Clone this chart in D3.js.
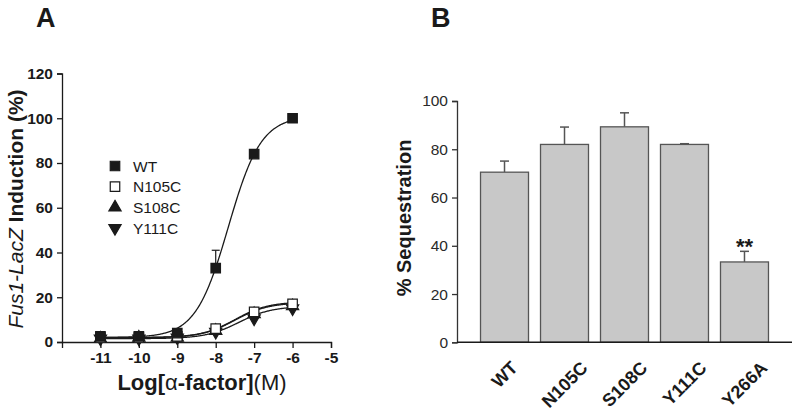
<!DOCTYPE html>
<html><head><meta charset="utf-8">
<script src="https://cdn.jsdelivr.net/npm/d3@7"></script>
<style>
body{margin:0;background:#fff;}
svg{display:block;font-family:"Liberation Sans",Arial,sans-serif;}
</style></head>
<body><svg id="c" width="800" height="411"></svg>
<script>
// ---- Panel A data ----
const logDose = [-11, -10, -9, -8, -7, -6];
const seriesNames = ["WT", "N105C", "S108C", "Y111C"];
const wtValues    = [2.5, 2.5, 4.0, 33.0, 84.0, 100.0];
const n105cValues = [2.0, 2.0, 2.5, 6.0, 13.5, 17.0];
const s108cValues = [1.5, 2.0, 2.0, 5.0, 12.5, 16.0];
const y111cValues = [1.5, 1.5, 2.0, 4.5, 10.5, 15.0];
const wtErrors    = [0, 0, 0, 8.0, 2.0, 0];
const n105cErrors = [0, 0, 0, 0, 1.0, 0];
// fitted sigmoid parameters: [bottom, top, logEC50, hill]
const wtFit    = [2.0, 101.0, -7.67, 1.02];
const n105cFit = [2.0, 18.0, -7.5, 1.0];
const s108cFit = [1.9, 17.6, -7.5, 1.0];
const y111cFit = [1.5, 16.0, -7.4, 1.0];
const xTicksA = [-11, -10, -9, -8, -7, -6, -5];
const yTicksA = [0, 20, 40, 60, 80, 100, 120];

// ---- Panel B data ----
const barCategories = ["WT", "N105C", "S108C", "Y111C", "Y266A"];
const barValues = [70.5, 82.0, 89.3, 82.0, 33.3];
const barErrors = [4.6, 7.2, 5.8, 0.3, 4.4];
const barMarks  = ["", "", "", "", "**"];
const yTicksB = [0, 20, 40, 60, 80, 100];

const svg = d3.select("#c");
const ink = "#1a1a1a";

// ================= Panel A =================
const xA = d3.scaleLinear().domain([-12, -5]).range([62, 331]);
const yA = d3.scaleLinear().domain([0, 120]).range([342, 73.5]);
const gA = svg.append("g");

const axXA = gA.append("g").attr("transform", `translate(0,${yA(0)})`)
  .call(d3.axisBottom(xA).tickValues(xTicksA).tickSize(6).tickPadding(4).tickFormat(d3.format("d")));
const axYA = gA.append("g").attr("transform", `translate(${xA(-12)},0)`)
  .call(d3.axisLeft(yA).tickValues(yTicksA).tickSize(5).tickPadding(4));
[axXA, axYA].forEach(a => {
  a.select(".domain").attr("stroke", ink).attr("stroke-width", 1.3);
  a.selectAll(".tick line").attr("stroke", ink).attr("stroke-width", 1.3);
  a.selectAll(".tick text").attr("fill", ink).attr("font-size", 15.5).attr("font-weight", "bold")
   .attr("font-family", "Liberation Sans, Arial, sans-serif");
});
axXA.selectAll(".tick text").text(d => d.toString());

// curves
const sig = (p, x) => p[0] + (p[1] - p[0]) / (1 + Math.pow(10, p[3] * (p[2] - x)));
const curveXs = d3.range(-11, -5.999, 0.02);
const line = d3.line().x(d => xA(d[0])).y(d => yA(d[1]));
[wtFit, n105cFit, s108cFit, y111cFit].forEach(p => {
  gA.append("path").datum(curveXs.map(x => [x, sig(p, x)]))
    .attr("d", line).attr("fill", "none").attr("stroke", ink).attr("stroke-width", 1.3);
});

// error bars
function errBars(vals, errs) {
  vals.forEach((v, i) => {
    if (!errs[i]) return;
    const cx = xA(logDose[i]);
    gA.append("line").attr("x1", cx).attr("x2", cx).attr("y1", yA(v)).attr("y2", yA(v + errs[i]))
      .attr("stroke", ink).attr("stroke-width", 1.2);
    gA.append("line").attr("x1", cx - 4).attr("x2", cx + 4).attr("y1", yA(v + errs[i])).attr("y2", yA(v + errs[i]))
      .attr("stroke", ink).attr("stroke-width", 1.2);
  });
}
errBars(wtValues, wtErrors);
errBars(n105cValues, n105cErrors);

// markers
const sq = d3.symbol().type(d3.symbolSquare).size(90);
const triUp = d3.symbol().type(d3.symbolTriangle).size(65);
const markerDefs = [
  {vals: y111cValues, path: triUp(), fill: ink, rot: 180},
  {vals: s108cValues, path: triUp(), fill: ink, rot: 0},
  {vals: n105cValues, path: sq(), fill: "#fff", rot: 0},
  {vals: wtValues, path: sq(), fill: ink, rot: 0}
];
markerDefs.forEach(m => {
  gA.append("g").selectAll("path").data(m.vals).join("path")
    .attr("d", m.path)
    .attr("transform", (d, i) => `translate(${xA(logDose[i])},${yA(d)}) rotate(${m.rot})`)
    .attr("fill", m.fill).attr("stroke", ink).attr("stroke-width", 1.2);
});

// legend
const legendMarkers = [
  {path: sq(), fill: ink, rot: 0},
  {path: sq(), fill: "#fff", rot: 0},
  {path: triUp(), fill: ink, rot: 0},
  {path: triUp(), fill: ink, rot: 180}
];
seriesNames.forEach((name, i) => {
  const y = 166 + i * 20.7;
  gA.append("path").attr("d", legendMarkers[i].path)
    .attr("transform", `translate(115,${y}) rotate(${legendMarkers[i].rot})`)
    .attr("fill", legendMarkers[i].fill).attr("stroke", ink).attr("stroke-width", 1.2);
  gA.append("text").attr("x", 133).attr("y", y).attr("dy", "0.36em")
    .attr("font-size", 15.5).attr("fill", ink).text(name);
});

// titles
const ytA = gA.append("text").attr("transform", "translate(23,209) rotate(-90)")
  .attr("text-anchor", "middle").attr("font-size", 21).attr("fill", ink);
ytA.append("tspan").attr("font-style", "italic").text("Fus1-LacZ");
ytA.append("tspan").attr("font-weight", "bold").text(" Induction (%)");

const xtA = gA.append("text").attr("x", 202).attr("y", 390)
  .attr("text-anchor", "middle").attr("font-size", 22).attr("fill", ink);
xtA.append("tspan").attr("font-weight", "bold").text("Log[");
xtA.append("tspan").text("α");
xtA.append("tspan").attr("font-weight", "bold").text("-factor]");
xtA.append("tspan").text("(M)");

svg.append("text").attr("x", 36).attr("y", 27).attr("font-size", 27).attr("font-weight", "bold")
  .attr("fill", ink).text("A");

// ================= Panel B =================
const xB = d3.scaleBand().domain(barCategories).range([457, 792]).paddingInner(0.2).paddingOuter(0.392);
const yB = d3.scaleLinear().domain([0, 100]).range([342.3, 101]);
const gB = svg.append("g");
const barColor = "#c8c8c8", barStroke = "#555";

// error bars (upper only)
gB.append("g").selectAll("g").data(barValues).join("g").each(function(v, i) {
  const cx = xB(barCategories[i]) + xB.bandwidth() / 2;
  const g = d3.select(this);
  g.append("line").attr("x1", cx).attr("x2", cx).attr("y1", yB(v)).attr("y2", yB(v + barErrors[i]))
    .attr("stroke", barStroke).attr("stroke-width", 1.5);
  g.append("line").attr("x1", cx - 4.5).attr("x2", cx + 4.5).attr("y1", yB(v + barErrors[i])).attr("y2", yB(v + barErrors[i]))
    .attr("stroke", barStroke).attr("stroke-width", 1.5);
});

gB.append("g").selectAll("rect").data(barValues).join("rect")
  .attr("x", (d, i) => xB(barCategories[i]))
  .attr("y", d => yB(d))
  .attr("width", xB.bandwidth())
  .attr("height", d => yB(0) - yB(d))
  .attr("fill", barColor).attr("stroke", barStroke).attr("stroke-width", 1.3);

gB.append("g").selectAll("text").data(barMarks).join("text")
  .attr("x", (d, i) => xB(barCategories[i]) + xB.bandwidth() / 2)
  .attr("y", (d, i) => yB(barValues[i] + barErrors[i]) + 3)
  .attr("text-anchor", "middle").attr("font-size", 22).attr("font-weight", "bold").attr("fill", ink)
  .text(d => d);

const axYB = gB.append("g").attr("transform", "translate(457,0)")
  .call(d3.axisLeft(yB).tickValues(yTicksB).tickSize(5).tickPadding(4));
axYB.select(".domain").attr("stroke", "#333").attr("stroke-width", 1.3);
axYB.selectAll(".tick line").attr("stroke", "#333").attr("stroke-width", 1.3);
axYB.selectAll(".tick text").attr("fill", "#2a2a2a").attr("font-size", 15.5)
  .attr("font-family", "Liberation Sans, Arial, sans-serif");

gB.append("line").attr("x1", 457).attr("x2", 792).attr("y1", yB(0)).attr("y2", yB(0))
  .attr("stroke", ink).attr("stroke-width", 1.4);

// rotated category labels: centred under each bar, tops aligned
const labelFs = 18, labelTop = 360;
gB.append("g").selectAll("text").data(barCategories).join("text")
  .attr("text-anchor", "middle").attr("dy", "0.35em")
  .attr("font-size", labelFs).attr("font-weight", "bold").attr("fill", ink)
  .text(d => d)
  .each(function(d) {
    const L = this.getComputedTextLength();
    const h = labelFs * 0.72;
    const cy = labelTop + (L + h) * Math.SQRT1_2 / 2;
    const cx = xB(d) + xB.bandwidth() / 2;
    d3.select(this).attr("transform", `translate(${cx},${cy}) rotate(-45)`);
  });

gB.append("text").attr("transform", "translate(411,218) rotate(-90)")
  .attr("text-anchor", "middle").attr("font-size", 20).attr("font-weight", "bold").attr("fill", ink)
  .text("% Sequestration");

svg.append("text").attr("x", 431).attr("y", 27).attr("font-size", 27).attr("font-weight", "bold")
  .attr("fill", ink).text("B");
</script></body></html>
